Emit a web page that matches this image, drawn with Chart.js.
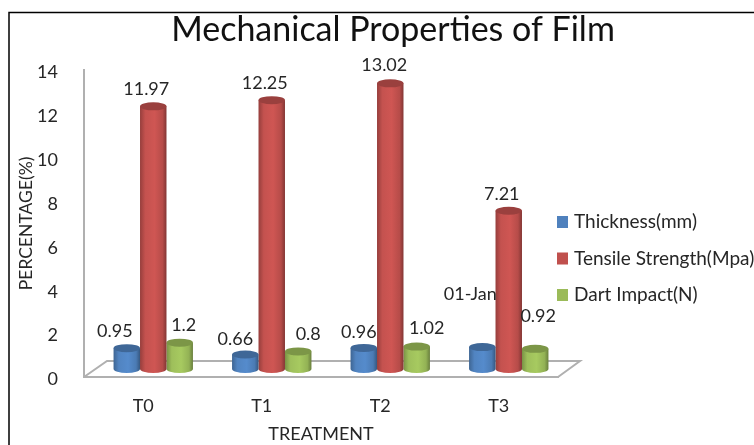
<!DOCTYPE html>
<html>
<head>
<meta charset="utf-8">
<title>Mechanical Properties of Film</title>
<script src="https://cdn.jsdelivr.net/npm/chart.js@4"></script>
<style>
  html, body { margin: 0; padding: 0; background: #fff; overflow: hidden; }
  canvas { display: block; }
</style>
</head>
<body>
<canvas id="film-chart" width="754" height="445"></canvas>
<script>
const treatments = ['T0', 'T1', 'T2', 'T3'];
const thickness = [0.95, 0.66, 0.96, 1];
const tensileStrength = [11.97, 12.25, 13.02, 7.21];
const dartImpact = [1.2, 0.8, 1.02, 0.92];
const thicknessText = ['0.95', '0.66', '0.96', '01-Jan'];

// Label placement relative to the top of each cylinder
const labelNudge = [
  [[-12, -17], [-10, -15], [-5, -16], [-12, -53]],
  [[-7, -17], [-7, -17], [-6, -18], [-7, -17]],
  [[4, -17], [10, -17], [10, -18], [3, -33]]
];

const FONT = 'Lato, "Open Sans", sans-serif';
const TEXT_COLOR = '#262626';
const FLOOR_COLOR = '#b0b0b0';
const DEPTH_X = 10;   // columns stand in the middle of the floor
const DEPTH_Y = -8;

function shade(hex, f) {
  const n = parseInt(hex.slice(1), 16);
  const c = [n >> 16, (n >> 8) & 255, n & 255].map((v) => Math.min(255, Math.round(v * f)));
  return `rgb(${c[0]},${c[1]},${c[2]})`;
}

// Bars are drawn as cylinders instead of flat rectangles
Chart.BarElement.prototype.draw = function (ctx) {
  const color = this.options.backgroundColor;
  const cx = this.x + DEPTH_X;
  const rx = this.width / 2;
  const ry = 4;
  const top = this.y + DEPTH_Y;
  const base = this.base + DEPTH_Y;

  const grad = ctx.createLinearGradient(cx - rx, 0, cx + rx, 0);
  grad.addColorStop(0, shade(color, 0.78));
  grad.addColorStop(0.2, shade(color, 1.02));
  grad.addColorStop(0.55, shade(color, 1.08));
  grad.addColorStop(0.85, shade(color, 0.95));
  grad.addColorStop(1, shade(color, 0.68));

  ctx.save();
  ctx.fillStyle = grad;
  ctx.beginPath();
  ctx.moveTo(cx - rx, top);
  ctx.lineTo(cx - rx, base);
  ctx.ellipse(cx, base, rx, ry, 0, Math.PI, 0, true);
  ctx.lineTo(cx + rx, top);
  ctx.closePath();
  ctx.fill();

  ctx.fillStyle = shade(color, 0.8);
  ctx.beginPath();
  ctx.ellipse(cx, top, rx, ry, 0, 0, Math.PI * 2);
  ctx.fill();
  ctx.restore();
};

const filmPlugin = {
  id: 'filmPlugin',
  afterLayout(chart) {
    // Title sits a little right of the canvas centre
    chart.titleBlock.left = 32;
    chart.titleBlock.right = 754;
  },
  beforeDraw(chart) {
    const ctx = chart.ctx;
    ctx.save();
    ctx.strokeStyle = '#000';
    ctx.lineWidth = 1.5;
    ctx.beginPath();
    ctx.moveTo(9, 445);
    ctx.lineTo(9, 12.5);
    ctx.lineTo(754, 12.5);
    ctx.stroke();
    ctx.restore();
  },
  beforeDatasetsDraw(chart) {
    // Floor of the 3D plot
    const { left, right, bottom } = chart.chartArea;
    const ctx = chart.ctx;
    ctx.save();
    ctx.strokeStyle = FLOOR_COLOR;
    ctx.lineWidth = 2;
    ctx.beginPath();
    ctx.moveTo(left, bottom);
    ctx.lineTo(left + 23, bottom - 16);
    ctx.lineTo(right + 22, bottom - 16);
    ctx.lineTo(right, bottom);
    ctx.stroke();
    ctx.restore();
  },
  afterDatasetsDraw(chart) {
    const ctx = chart.ctx;
    ctx.save();
    ctx.fillStyle = TEXT_COLOR;
    ctx.font = `18px ${FONT}`;
    ctx.textAlign = 'center';
    ctx.textBaseline = 'middle';
    chart.data.datasets.forEach((ds, i) => {
      chart.getDatasetMeta(i).data.forEach((bar, j) => {
        const text = ds.valueText ? ds.valueText[j] : String(ds.data[j]);
        const [nx, ny] = labelNudge[i][j];
        ctx.fillText(text, bar.x + DEPTH_X + nx, bar.y + DEPTH_Y + ny);
      });
    });

    // Legend column to the right of the floor
    ctx.font = `19px ${FONT}`;
    ctx.textAlign = 'left';
    chart.data.datasets.forEach((ds, i) => {
      const y = 222 + i * 36.5;
      ctx.fillStyle = ds.backgroundColor;
      ctx.fillRect(557, y - 6, 11, 12);
      ctx.fillStyle = TEXT_COLOR;
      ctx.fillText(ds.label, 574, y);
    });
    ctx.restore();
  }
};

new Chart(document.getElementById('film-chart'), {
  type: 'bar',
  data: {
    labels: treatments,
    datasets: [
      { label: 'Thickness(mm)', data: thickness, backgroundColor: '#4f81bd', valueText: thicknessText },
      { label: 'Tensile Strength(Mpa)', data: tensileStrength, backgroundColor: '#c0504d' },
      { label: 'Dart Impact(N)', data: dartImpact, backgroundColor: '#9bbb59' }
    ]
  },
  plugins: [filmPlugin],
  options: {
    responsive: false,
    animation: false,
    layout: { padding: { right: 196 } },
    datasets: { bar: { barPercentage: 1, categoryPercentage: 0.67 } },
    plugins: {
      legend: { display: false },
      tooltip: { enabled: false },
      title: {
        display: true,
        text: 'Mechanical Properties of Film',
        color: '#111',
        font: { family: FONT, size: 34, weight: 'normal', lineHeight: 1.2 },
        padding: { top: 10, bottom: 19 }
      }
    },
    scales: {
      x: {
        afterFit(scale) { scale.height = 68; },
        grid: { display: false },
        border: { color: FLOOR_COLOR, width: 2 },
        ticks: { color: TEXT_COLOR, font: { family: FONT, size: 18 }, padding: 10 },
        title: { display: true, text: 'TREATMENT', color: TEXT_COLOR, font: { family: FONT, size: 18 }, padding: 0 }
      },
      y: {
        min: 0,
        max: 14,
        afterFit(scale) { scale.width = 84; },
        grid: { display: false },
        border: { color: FLOOR_COLOR, width: 2 },
        ticks: { stepSize: 2, color: TEXT_COLOR, font: { family: FONT, size: 18 }, padding: 18, labelOffset: 2.5 },
        title: { display: true, text: 'PERCENTAGE(%)', color: TEXT_COLOR, font: { family: FONT, size: 17.5 }, padding: { top: 16 } }
      }
    }
  }
});
</script>
</body>
</html>
